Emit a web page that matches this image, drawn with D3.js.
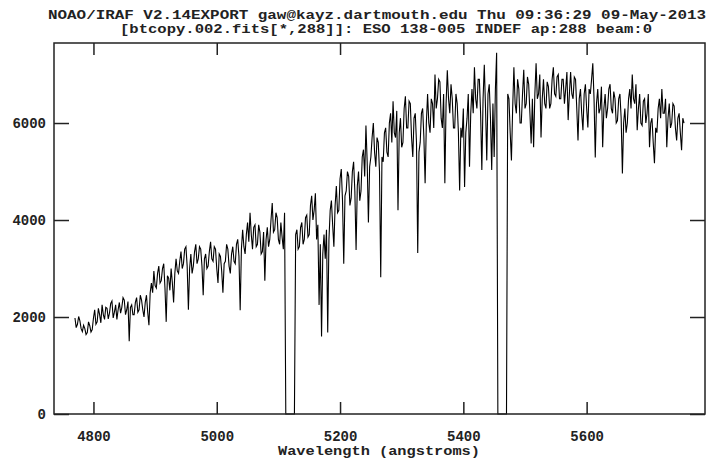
<!DOCTYPE html>
<html><head><meta charset="utf-8">
<script src="https://cdn.jsdelivr.net/npm/d3@7"></script>
<style>
html,body{margin:0;padding:0;background:#fff;}
svg{display:block;}
text{font-family:"Liberation Mono","DejaVu Sans Mono",monospace;font-weight:bold;fill:#222;}
</style></head>
<body>
<script>
// ---- data ----
const titleLines = [
  "NOAO/IRAF V2.14EXPORT gaw@kayz.dartmouth.edu Thu 09:36:29 09-May-2013",
  "[btcopy.002.fits[*,288]]: ESO 138-005 INDEF ap:288 beam:0"
];
const xLabel = "Wavelength (angstroms)";
const xTicks = [4800, 5000, 5200, 5400, 5600];
const yTicks = [0, 2000, 4000, 6000];
// dispersion solution of the extracted aperture (start wavelength, step in angstroms)
const lambdaStart = 4770, lambdaStep = 2;
const flux = [
  1980,1780,1850,2010,1920,1760,1700,1830,1760,1640,1680,1900,1820,1690,1740,1980,2150,1850,1900,2180,2050,1880,
  2250,2050,1950,2200,2180,1960,2080,2280,2330,1980,2100,2250,1950,2150,2300,2080,2200,2400,2350,2050,
  2150,2320,1500,2200,2250,2050,2050,2300,2400,2100,2150,2450,2350,2150,2000,2300,2450,2100,1830,2500,
  2700,2500,2950,2650,2600,2900,3050,2700,2750,3000,3100,2600,1900,2850,2800,2550,3000,2700,2300,2900,
  3200,2950,2900,3150,3350,3000,3100,3400,3450,3050,2150,3000,3300,2900,3050,3350,3500,3100,3200,3450,
  3400,3050,2450,3200,3300,3000,3050,3350,3550,3200,3150,3450,3400,3000,2700,3300,3250,2950,2500,3100,
  3150,3500,3400,3050,2900,3300,3450,3150,3100,3500,3600,3250,2140,3400,3800,3450,3300,3700,3950,3550,
  4150,3700,3400,3850,3900,3450,3500,3900,3750,3300,3350,3750,2750,3600,3850,3450,3600,4000,4350,3750,
  3800,4150,4050,3600,3500,3950,3650,3400,4150,0,
  0,0,0,0,0,0,0,3700,
  3800,3400,3450,3850,3950,3500,3600,4050,4100,3650,3700,4300,4500,4000,4200,4550,
  3600,3900,2250,3500,1600,3300,3700,3200,3800,1680,3600,4200,
  4400,3900,3450,4300,4700,4150,4200,4850,5050,4400,3100,4500,4600,5000,
  4900,4300,4450,5000,5200,4600,3380,4700,5000,4400,4600,5300,5450,4900,5950,5200,3950,5100,5300,5700,
  6000,5400,5100,5700,5600,5000,2820,5300,5200,5800,5900,5400,5300,6000,6200,5600,6450,5800,5700,6250,
  4200,5800,6100,5500,5600,6300,6550,5900,5900,6450,6400,5700,5300,6100,6200,5600,3320,5400,5600,6200,
  6300,5700,4760,6000,6600,6000,5800,6500,6400,5900,7000,6300,6500,6900,6850,6100,5900,6600,4760,6400,
  7090,6500,6200,6800,6500,5900,5900,6600,6400,5800,4610,5900,5700,6300,4680,5800,6100,6600,5100,6200,
  6700,6200,7150,6500,6300,6900,6900,6200,5030,6500,7200,6300,5230,6600,6800,6100,5030,6400,5300,6700,7450,0,
  0,0,0,0,0,0,0,6600,
  6500,5800,5230,6300,7150,6400,6200,6900,6700,6000,6000,6600,7100,6300,6400,6950,6800,6200,5580,6500,
  5500,6600,7230,6500,6600,7000,5700,6500,6900,6400,6300,6850,6750,6300,6400,6900,7150,6600,6550,6950,
  7000,6500,6500,6900,6900,6400,6700,7050,6060,6600,7050,6600,6500,6950,6900,6300,5640,6500,6700,6200,
  5850,6600,6800,6300,5910,6700,6600,6900,7230,6500,5290,6400,6700,6200,6300,6750,5500,6300,6600,6100,
  6300,6700,6800,6300,6200,6650,6500,6000,6050,6500,6600,6100,4960,6000,6300,5800,6000,6500,6700,6300,
  7000,6500,6400,6800,5850,6300,6600,6000,5950,6450,6500,6000,6200,6600,5500,6000,6100,5600,5170,5900,
  5800,6300,6500,6100,6700,6200,6200,6500,5500,6100,6400,5900,6000,6400,6350,5900,5640,6100,6200,5800,5440,6100,6000
];
const xDomain = [4736, 5792];
const yDomain = [0, 7650];

// ---- drawing ----
const W = 710, H = 459;
const L = 54, R = 705, T = 43, B = 414;
const FONT = '"Liberation Mono","DejaVu Sans Mono",monospace';
const svg = d3.select("body").append("svg").attr("width", W).attr("height", H);

const x = d3.scaleLinear().domain(xDomain).range([L, R]);
const y = d3.scaleLinear().domain(yDomain).range([B, T]);

const pts = flux.map((f, i) => [lambdaStart + i * lambdaStep, f]);

// titles
svg.append("text").attr("x", 377).attr("y", 19).attr("text-anchor", "middle")
  .attr("font-size", 13).attr("textLength", 658).attr("lengthAdjust", "spacingAndGlyphs")
  .text(titleLines[0]);
svg.append("text").attr("x", 386).attr("y", 33).attr("text-anchor", "middle")
  .attr("font-size", 13).attr("textLength", 532).attr("lengthAdjust", "spacingAndGlyphs")
  .text(titleLines[1]);

// spectrum
svg.append("path").datum(pts)
  .attr("fill", "none").attr("stroke", "#000").attr("stroke-width", 1.1)
  .attr("stroke-linejoin", "miter")
  .attr("d", d3.line().x(d => x(d[0])).y(d => y(d[1])));

// axes (inward ticks)
const gB = svg.append("g").attr("transform", `translate(0,${B})`)
  .call(d3.axisBottom(x).tickValues(xTicks).tickSize(-12).tickPadding(17).tickFormat(d3.format("d")));
const gT = svg.append("g").attr("transform", `translate(0,${T})`)
  .call(d3.axisTop(x).tickValues(xTicks).tickSize(-12).tickFormat(""));
const gL = svg.append("g").attr("transform", `translate(${L},0)`)
  .call(d3.axisLeft(y).tickValues(yTicks).tickSize(-15).tickPadding(8).tickFormat(d3.format("d")));
const gR = svg.append("g").attr("transform", `translate(${R},0)`)
  .call(d3.axisRight(y).tickValues(yTicks).tickSize(-15).tickFormat(""));
[gB, gT, gL, gR].forEach(g => {
  g.select(".domain").remove();
  g.selectAll(".tick line").attr("stroke", "#222").attr("stroke-width", 1.5);
  g.selectAll(".tick text").attr("font-size", 14)
    .style("font-family", FONT).style("font-weight", "bold").attr("fill", "#222");
});

// frame
svg.append("rect").attr("x", L).attr("y", T).attr("width", R - L).attr("height", B - T)
  .attr("fill", "none").attr("stroke", "#222").attr("stroke-width", 1.5);

// x axis title
svg.append("text").attr("x", 379).attr("y", 455).attr("text-anchor", "middle")
  .attr("font-size", 13).attr("textLength", 202).attr("lengthAdjust", "spacingAndGlyphs")
  .text(xLabel);
</script>
</body></html>
